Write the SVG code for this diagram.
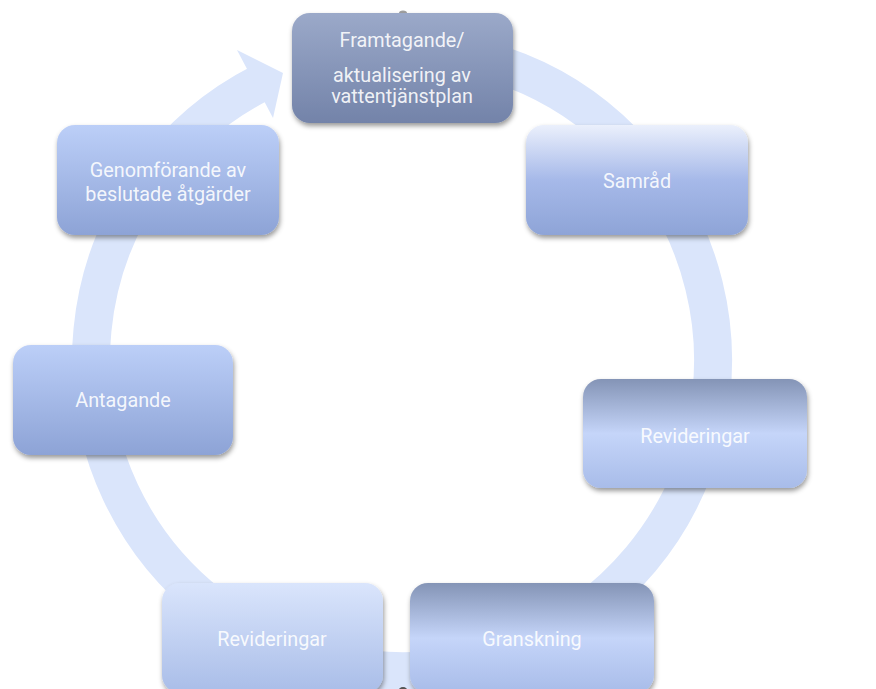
<svg xmlns="http://www.w3.org/2000/svg" width="876" height="689" viewBox="0 0 876 689">
<defs>
<style>
.lbl{font-family:Roboto,"Liberation Sans",sans-serif;font-size:19.8px;fill:#ffffff;fill-opacity:0.9;text-anchor:middle}
.box{filter:url(#sh)}
</style>
<filter id="sh" x="-10%" y="-10%" width="125%" height="130%">
<feDropShadow dx="1" dy="3" stdDeviation="2.5" flood-color="#000" flood-opacity="0.4"/>
</filter>
<linearGradient id="gTop" x1="0" y1="0" x2="0" y2="1"><stop offset="0" stop-color="#9ba9c9"/><stop offset="1" stop-color="#7383a9"/></linearGradient>
<linearGradient id="gBlue" x1="0" y1="0" x2="0" y2="1"><stop offset="0" stop-color="#bccff8"/><stop offset="1" stop-color="#8da3d6"/></linearGradient>
<linearGradient id="gSam" x1="0" y1="0" x2="0" y2="1"><stop offset="0" stop-color="#ebf0fc"/><stop offset="0.5" stop-color="#a6b9e9"/><stop offset="1" stop-color="#8ea4d7"/></linearGradient>
<linearGradient id="gMid" x1="0" y1="0" x2="0" y2="1"><stop offset="0" stop-color="#8494b6"/><stop offset="0.5" stop-color="#c5d5f9"/><stop offset="1" stop-color="#a8bce9"/></linearGradient>
<linearGradient id="gLight" x1="0" y1="0" x2="0" y2="1"><stop offset="0" stop-color="#dae5fc"/><stop offset="1" stop-color="#a9bde8"/></linearGradient>
</defs>
<rect width="876" height="689" fill="#ffffff"/>
<g id="connectors">
<path d="M337.3,55.8 A311,311 0 1 1 260.8,82.9" fill="none" stroke="#dae5fb" stroke-width="38"/>
<polygon points="237,50 283,73 273,118" fill="#dae5fb"/>
</g>
<ellipse cx="403" cy="13" rx="4" ry="2.5" fill="#a0a0a0"/>
<circle cx="403" cy="692" r="5" fill="#555555"/>
<g id="n1"><rect class="box" x="292" y="13" width="221" height="110" rx="18" fill="url(#gTop)"/>
<text class="lbl" x="402" y="47">Framtagande/</text>
<text class="lbl" x="402" y="82">aktualisering av</text>
<text class="lbl" x="402" y="103">vattentjänstplan</text></g>
<g id="n2"><rect class="box" x="526" y="125" width="222" height="110" rx="18" fill="url(#gSam)"/>
<text class="lbl" x="637" y="188">Samråd</text></g>
<g id="n3"><rect class="box" x="583" y="379" width="224" height="109" rx="18" fill="url(#gMid)"/>
<text class="lbl" x="695" y="443">Revideringar</text></g>
<g id="n4"><rect class="box" x="410" y="583" width="244" height="110" rx="18" fill="url(#gMid)"/>
<text class="lbl" x="532" y="646">Granskning</text></g>
<g id="n5"><rect class="box" x="162" y="583" width="221" height="110" rx="18" fill="url(#gLight)"/>
<text class="lbl" x="272" y="646">Revideringar</text></g>
<g id="n6"><rect class="box" x="13" y="345" width="220" height="110" rx="18" fill="url(#gBlue)"/>
<text class="lbl" x="123" y="407">Antagande</text></g>
<g id="n7"><rect class="box" x="57" y="125" width="222" height="110" rx="18" fill="url(#gBlue)"/>
<text class="lbl" x="168" y="177">Genomförande av</text>
<text class="lbl" x="168" y="201">beslutade åtgärder</text></g>
</svg>
